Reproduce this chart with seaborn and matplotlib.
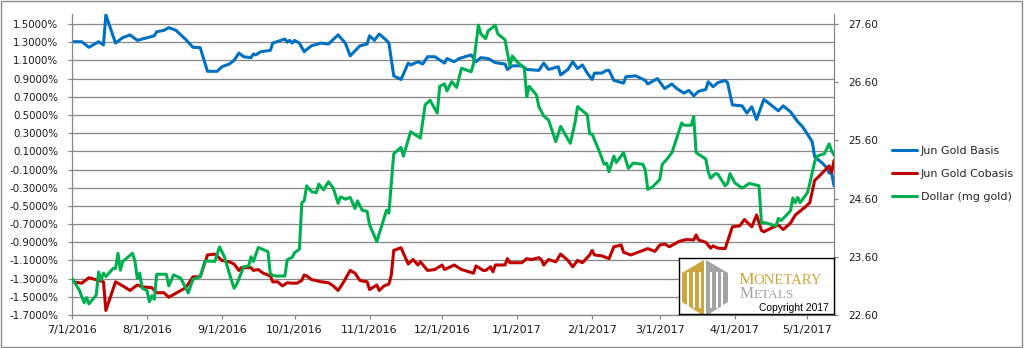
import matplotlib
matplotlib.use("Agg")
import matplotlib.pyplot as plt
import matplotlib.dates as mdates
from matplotlib.ticker import FuncFormatter, FixedLocator
from matplotlib.patches import Polygon, Rectangle
from matplotlib.lines import Line2D
import numpy as np
import pandas as pd
import seaborn as sns

# ---------------- data ----------------
basis_dates = [
    "2016-07-01", "2016-07-05", "2016-07-08", "2016-07-12", "2016-07-14", "2016-07-15", "2016-07-19",
    "2016-07-22", "2016-07-25", "2016-07-28", "2016-08-04", "2016-08-05", "2016-08-08", "2016-08-10",
    "2016-08-13", "2016-08-17", "2016-08-20", "2016-08-23", "2016-08-26", "2016-08-30", "2016-09-01",
    "2016-09-04", "2016-09-06", "2016-09-08", "2016-09-10", "2016-09-13", "2016-09-14", "2016-09-15",
    "2016-09-17", "2016-09-21", "2016-09-22", "2016-09-27", "2016-09-28", "2016-09-29", "2016-09-30",
    "2016-10-01", "2016-10-03", "2016-10-05", "2016-10-06", "2016-10-08", "2016-10-12", "2016-10-15",
    "2016-10-19", "2016-10-22", "2016-10-24", "2016-10-28", "2016-10-31", "2016-11-01", "2016-11-03",
    "2016-11-05", "2016-11-08", "2016-11-09", "2016-11-11", "2016-11-14", "2016-11-17", "2016-11-18",
    "2016-11-21", "2016-11-23", "2016-11-25", "2016-11-28", "2016-12-02", "2016-12-03", "2016-12-06",
    "2016-12-08", "2016-12-13", "2016-12-15", "2016-12-17", "2016-12-20", "2016-12-23", "2016-12-27",
    "2016-12-28", "2016-12-30", "2017-01-03", "2017-01-05", "2017-01-10", "2017-01-12", "2017-01-14",
    "2017-01-18", "2017-01-19", "2017-01-22", "2017-01-24", "2017-01-26", "2017-01-28", "2017-01-30",
    "2017-02-01", "2017-02-02", "2017-02-05", "2017-02-07", "2017-02-08", "2017-02-10", "2017-02-14",
    "2017-02-15", "2017-02-19", "2017-02-23", "2017-02-24", "2017-02-28", "2017-03-03", "2017-03-06",
    "2017-03-08", "2017-03-11", "2017-03-13", "2017-03-15", "2017-03-17", "2017-03-20", "2017-03-21",
    "2017-03-23", "2017-03-25", "2017-03-28", "2017-03-29", "2017-03-31", "2017-04-04", "2017-04-06",
    "2017-04-08", "2017-04-10", "2017-04-13", "2017-04-15", "2017-04-19", "2017-04-21", "2017-04-24",
    "2017-04-27", "2017-04-29", "2017-05-01", "2017-05-03", "2017-05-04", "2017-05-07", "2017-05-09",
    "2017-05-10", "2017-05-11", "2017-05-12",
]
basis_values = [
    1.305, 1.305, 1.244, 1.305, 1.27, 1.60, 1.29,
    1.35, 1.38, 1.32, 1.37, 1.415, 1.43, 1.46,
    1.43, 1.33, 1.244, 1.24, 0.98, 0.98, 1.03,
    1.06, 1.10, 1.18, 1.14, 1.13, 1.17, 1.16,
    1.195, 1.21, 1.29, 1.335, 1.30, 1.32, 1.29,
    1.32, 1.29, 1.195, 1.22, 1.26, 1.29, 1.28,
    1.38, 1.29, 1.15, 1.26, 1.28, 1.37, 1.32,
    1.39, 1.32, 1.29, 0.93, 0.89, 1.07, 1.05,
    1.085, 1.06, 1.14, 1.14, 1.07, 1.12, 1.085,
    1.12, 1.16, 1.085, 1.13, 1.12, 1.075, 1.06,
    1.00, 1.04, 1.04, 1.00, 0.99, 1.07, 1.00,
    1.03, 0.94, 1.00, 1.085, 1.01, 1.05, 0.96,
    0.89, 0.96, 0.96, 0.99, 0.99, 0.88, 0.85,
    0.92, 0.93, 0.88, 0.84, 0.90, 0.79, 0.84,
    0.79, 0.74, 0.77, 0.71, 0.76, 0.78, 0.865,
    0.81, 0.855, 0.88, 0.855, 0.61, 0.60, 0.52,
    0.59, 0.45, 0.67, 0.63, 0.545, 0.60, 0.535,
    0.425, 0.37, 0.29, 0.205, 0.04, -0.025, -0.08,
    -0.14, -0.135, -0.28,
]

cobasis_dates = [
    "2016-07-01", "2016-07-05", "2016-07-08", "2016-07-12", "2016-07-14", "2016-07-15", "2016-07-19",
    "2016-07-22", "2016-07-25", "2016-07-28", "2016-07-30", "2016-08-03", "2016-08-05", "2016-08-08",
    "2016-08-10", "2016-08-13", "2016-08-17", "2016-08-20", "2016-08-23", "2016-08-26", "2016-08-29",
    "2016-09-01", "2016-09-04", "2016-09-06", "2016-09-08", "2016-09-09", "2016-09-13", "2016-09-14",
    "2016-09-16", "2016-09-18", "2016-09-21", "2016-09-22", "2016-09-24", "2016-09-26", "2016-09-28",
    "2016-09-30", "2016-10-02", "2016-10-04", "2016-10-05", "2016-10-06", "2016-10-08", "2016-10-12",
    "2016-10-15", "2016-10-17", "2016-10-19", "2016-10-21", "2016-10-24", "2016-10-26", "2016-10-28",
    "2016-10-31", "2016-11-01", "2016-11-04", "2016-11-05", "2016-11-07", "2016-11-09", "2016-11-10",
    "2016-11-11", "2016-11-14", "2016-11-17", "2016-11-19", "2016-11-21", "2016-11-22", "2016-11-25",
    "2016-11-28", "2016-12-01", "2016-12-02", "2016-12-06", "2016-12-09", "2016-12-14", "2016-12-15",
    "2016-12-18", "2016-12-19", "2016-12-21", "2016-12-22", "2016-12-23", "2016-12-27", "2016-12-28",
    "2016-12-29", "2017-01-03", "2017-01-05", "2017-01-07", "2017-01-10", "2017-01-11", "2017-01-12",
    "2017-01-14", "2017-01-17", "2017-01-19", "2017-01-22", "2017-01-24", "2017-01-26", "2017-01-28",
    "2017-01-31", "2017-02-01", "2017-02-02", "2017-02-05", "2017-02-08", "2017-02-10", "2017-02-13",
    "2017-02-14", "2017-02-17", "2017-02-21", "2017-02-24", "2017-02-27", "2017-03-01", "2017-03-03",
    "2017-03-05", "2017-03-09", "2017-03-12", "2017-03-15", "2017-03-16", "2017-03-17", "2017-03-20",
    "2017-03-22", "2017-03-23", "2017-03-25", "2017-03-28", "2017-03-29", "2017-03-31", "2017-04-03",
    "2017-04-05", "2017-04-08", "2017-04-10", "2017-04-12", "2017-04-13", "2017-04-18", "2017-04-19",
    "2017-04-21", "2017-04-24", "2017-04-26", "2017-04-30", "2017-05-02", "2017-05-04", "2017-05-06",
    "2017-05-08", "2017-05-10", "2017-05-11", "2017-05-12",
]
cobasis_values = [
    -1.335, -1.35, -1.29, -1.32, -1.335, -1.65, -1.335,
    -1.38, -1.43, -1.37, -1.39, -1.40, -1.455, -1.455,
    -1.505, -1.46, -1.40, -1.28, -1.28, -1.04, -1.03,
    -1.10, -1.115, -1.14, -1.21, -1.18, -1.18, -1.21,
    -1.20, -1.24, -1.27, -1.335, -1.335, -1.38, -1.345,
    -1.35, -1.35, -1.32, -1.26, -1.27, -1.31, -1.335,
    -1.345, -1.38, -1.43, -1.35, -1.21, -1.24, -1.32,
    -1.335, -1.42, -1.37, -1.43, -1.38, -1.36, -1.26,
    -0.99, -0.96, -1.14, -1.09, -1.15, -1.115, -1.21,
    -1.20, -1.15, -1.20, -1.15, -1.20, -1.24, -1.16,
    -1.21, -1.21, -1.17, -1.225, -1.15, -1.15, -1.08,
    -1.125, -1.125, -1.08, -1.09, -1.07, -1.09, -1.15,
    -1.09, -1.115, -1.03, -1.10, -1.17, -1.10, -1.125,
    -1.04, -0.99, -1.04, -1.05, -1.08, -0.95, -0.93,
    -1.01, -1.04, -1.00, -0.97, -1.00, -0.93, -0.92,
    -0.95, -0.89, -0.87, -0.875, -0.82, -0.875, -0.90,
    -0.965, -0.94, -0.965, -0.97, -0.89, -0.73, -0.72,
    -0.65, -0.73, -0.60, -0.77, -0.785, -0.72, -0.71,
    -0.76, -0.69, -0.60, -0.515, -0.465, -0.22, -0.17,
    -0.115, -0.06, -0.135, 0.00,
]

dollar_dates = [
    "2016-07-01", "2016-07-04", "2016-07-06", "2016-07-07", "2016-07-08", "2016-07-11", "2016-07-12",
    "2016-07-13", "2016-07-14", "2016-07-15", "2016-07-18", "2016-07-19", "2016-07-20", "2016-07-21",
    "2016-07-22", "2016-07-26", "2016-07-27", "2016-07-28", "2016-07-29", "2016-07-30", "2016-08-01",
    "2016-08-02", "2016-08-03", "2016-08-04", "2016-08-05", "2016-08-09", "2016-08-10", "2016-08-12",
    "2016-08-15", "2016-08-18", "2016-08-20", "2016-08-23", "2016-08-25", "2016-08-29", "2016-08-31",
    "2016-09-02", "2016-09-04", "2016-09-06", "2016-09-07", "2016-09-10", "2016-09-12", "2016-09-13",
    "2016-09-14", "2016-09-16", "2016-09-20", "2016-09-21", "2016-09-23", "2016-09-27", "2016-09-28",
    "2016-09-30", "2016-10-01", "2016-10-03", "2016-10-04", "2016-10-05", "2016-10-06", "2016-10-08",
    "2016-10-10", "2016-10-11", "2016-10-13", "2016-10-15", "2016-10-17", "2016-10-19", "2016-10-20",
    "2016-10-22", "2016-10-24", "2016-10-26", "2016-10-27", "2016-10-29", "2016-10-31", "2016-11-01",
    "2016-11-04", "2016-11-08", "2016-11-09", "2016-11-11", "2016-11-14", "2016-11-15", "2016-11-18",
    "2016-11-22", "2016-11-24", "2016-11-26", "2016-11-29", "2016-11-30", "2016-12-02", "2016-12-03",
    "2016-12-05", "2016-12-07", "2016-12-09", "2016-12-13", "2016-12-14", "2016-12-16", "2016-12-17",
    "2016-12-19", "2016-12-20", "2016-12-23", "2016-12-24", "2016-12-27", "2016-12-29", "2016-12-30",
    "2017-01-01", "2017-01-04", "2017-01-05", "2017-01-06", "2017-01-09", "2017-01-10", "2017-01-12",
    "2017-01-14", "2017-01-17", "2017-01-19", "2017-01-23", "2017-01-25", "2017-01-26", "2017-01-30",
    "2017-01-31", "2017-02-01", "2017-02-04", "2017-02-06", "2017-02-07", "2017-02-08", "2017-02-10",
    "2017-02-11", "2017-02-14", "2017-02-16", "2017-02-18", "2017-02-22", "2017-02-23", "2017-02-24",
    "2017-02-26", "2017-03-01", "2017-03-02", "2017-03-04", "2017-03-06", "2017-03-08", "2017-03-10",
    "2017-03-11", "2017-03-14", "2017-03-15", "2017-03-16", "2017-03-20", "2017-03-21", "2017-03-22",
    "2017-03-24", "2017-03-25", "2017-03-28", "2017-03-29", "2017-03-30", "2017-04-01", "2017-04-04",
    "2017-04-07", "2017-04-11", "2017-04-12", "2017-04-14", "2017-04-18", "2017-04-19", "2017-04-20",
    "2017-04-22", "2017-04-24", "2017-04-25", "2017-04-26", "2017-04-27", "2017-04-28", "2017-05-01",
    "2017-05-02", "2017-05-04", "2017-05-05", "2017-05-08", "2017-05-10", "2017-05-11", "2017-05-12",
]
dollar_values = [
    23.23, 23.03, 22.81, 22.90, 22.79, 22.94, 23.34,
    23.20, 23.32, 23.26, 23.40, 23.40, 23.66, 23.37,
    23.52, 23.66, 23.53, 23.23, 23.32, 23.06, 23.02,
    22.83, 22.93, 22.87, 23.30, 23.30, 23.10, 23.29,
    23.23, 22.98, 23.21, 23.26, 23.53, 23.52, 23.77,
    23.60, 23.32, 23.06, 23.12, 23.43, 23.44, 23.60,
    23.52, 23.76, 23.69, 23.30, 23.27, 23.27, 23.55,
    23.59, 23.67, 23.73, 24.53, 24.56, 24.82, 24.72,
    24.70, 24.85, 24.75, 24.89, 24.78, 24.52, 24.63,
    24.59, 24.62, 24.43, 24.56, 24.40, 24.38, 24.15,
    23.86, 24.40, 24.35, 25.37, 25.48, 25.33, 25.75,
    25.64, 26.21, 26.29, 26.07, 26.53, 26.57, 26.45,
    26.61, 26.51, 26.84, 26.78, 26.92, 27.58, 27.43,
    27.35, 27.48, 27.58, 27.43, 27.33, 26.88, 27.05,
    26.95, 26.84, 26.35, 26.53, 26.38, 26.18, 26.02,
    25.95, 25.58, 25.84, 25.55, 25.92, 26.18, 26.04,
    25.71, 25.71, 25.41, 25.19, 25.21, 25.06, 25.33,
    25.22, 25.39, 25.12, 25.21, 25.19, 25.09, 24.76,
    24.80, 24.93, 25.19, 25.28, 25.39, 25.64, 25.90,
    25.86, 25.86, 26.01, 25.39, 25.28, 25.06, 24.95,
    25.03, 25.02, 24.82, 24.86, 25.03, 24.87, 24.78,
    24.86, 24.82, 24.19, 24.18, 24.13, 24.26, 24.22,
    24.30, 24.39, 24.61, 24.53, 24.62, 24.53, 24.70,
    24.86, 25.23, 25.33, 25.37, 25.54, 25.42, 25.35,
]

series_labels = ["Jun Gold Basis", "Jun Gold Cobasis", "Dollar (mg gold)"]
series_colors = ["#0070C0", "#C00000", "#00B050"]

left_ticks = [-1.7, -1.5, -1.3, -1.1, -0.9, -0.7, -0.5, -0.3, -0.1, 0.1, 0.3, 0.5, 0.7, 0.9, 1.1, 1.3, 1.5]
right_ticks = [22.6, 23.6, 24.6, 25.6, 26.6, 27.6]
x_start, x_end = "2016-07-01", "2017-05-12"

basis_df = pd.DataFrame({"date": pd.to_datetime(basis_dates), "value": basis_values})
cobasis_df = pd.DataFrame({"date": pd.to_datetime(cobasis_dates), "value": cobasis_values})
dollar_df = pd.DataFrame({"date": pd.to_datetime(dollar_dates), "value": dollar_values})

# ---------------- style ----------------
sns.set_style("white")
plt.rcParams["font.family"] = ["DejaVu Sans"]
plt.rcParams["axes.unicode_minus"] = False

W, H = 1025, 348
fig = plt.figure(figsize=(W / 100, H / 100), dpi=100)
fig.patch.set_facecolor("white")

# plot area in pixels: left 72, right 834, top 14, bottom 315
ax = fig.add_axes([72 / W, (H - 315) / H, (834 - 72) / W, (315 - 14) / H])
ax2 = ax.twinx()

lw = 2.2
sns.lineplot(data=basis_df, x="date", y="value", ax=ax, color=series_colors[0], lw=lw, legend=False)
sns.lineplot(data=cobasis_df, x="date", y="value", ax=ax, color=series_colors[1], lw=lw, legend=False)
sns.lineplot(data=dollar_df, x="date", y="value", ax=ax2, color=series_colors[2], lw=lw, legend=False)

grid_c = "#878787"
ax.set_xlim(pd.Timestamp(x_start), pd.Timestamp(x_end))
left_span = (left_ticks[-1] - left_ticks[0]) / 291 * 301
ax.set_ylim(left_ticks[0], left_ticks[0] + left_span)
right_span = (right_ticks[-1] - right_ticks[0]) / 291 * 301
ax2.set_ylim(right_ticks[0], right_ticks[0] + right_span)

ax.yaxis.set_major_locator(FixedLocator(left_ticks))
ax.yaxis.set_major_formatter(FuncFormatter(lambda v, p: f"{v:.4f}%"))
ax2.yaxis.set_major_locator(FixedLocator(right_ticks))
ax2.yaxis.set_major_formatter(FuncFormatter(lambda v, p: f"{v:.2f}"))

ax.xaxis.set_major_locator(mdates.MonthLocator())
ax.xaxis.set_major_formatter(FuncFormatter(
    lambda v, p: (lambda d: f"{d.month}/{d.day}/{d.year}")(mdates.num2date(v))))

ax.set_xlabel("")
ax.set_ylabel("")
ax2.set_ylabel("")

ax.grid(True, axis="y", color=grid_c, lw=0.9)
ax.grid(False, axis="x")
ax2.grid(False)
ax.set_axisbelow(True)

for s in ["top", "right"]:
    ax.spines[s].set_visible(False)
for s in ["left", "bottom"]:
    ax.spines[s].set_color(grid_c)
    ax.spines[s].set_linewidth(0.9)
for s in ["top", "left", "bottom"]:
    ax2.spines[s].set_visible(False)
ax2.spines["right"].set_color(grid_c)
ax2.spines["right"].set_linewidth(0.9)

ax.tick_params(axis="y", which="major", direction="out", length=3, width=0.9, color=grid_c,
               pad=7, labelsize=7.4, labelcolor="#1a1a1a", left=True)
ax.tick_params(axis="x", which="major", direction="out", length=3, width=0.9, color=grid_c,
               pad=4.5, labelsize=8, labelcolor="#1a1a1a", bottom=True)
ax2.tick_params(axis="y", which="major", direction="out", length=3, width=0.9, color=grid_c,
                pad=7, labelsize=7.6, labelcolor="#1a1a1a", right=True)

# legend
handles = [Line2D([], [], color=c, lw=lw) for c in series_colors]
fig.legend(handles, series_labels, loc="center left", bbox_to_anchor=(891.5 / W, 1 - 174 / H),
           frameon=False, fontsize=8, handlelength=2.3, handletextpad=0.35,
           labelspacing=1.15, borderpad=0, borderaxespad=0)

# logo box
lx0, ly0, lx1, ly1 = 679, 258, 834, 314
lax = fig.add_axes([lx0 / W, (H - ly1) / H, (lx1 - lx0) / W, (ly1 - ly0) / H])
lax.set_xlim(0, lx1 - lx0)
lax.set_ylim(ly1 - ly0, 0)
lax.set_xticks([])
lax.set_yticks([])
lax.set_facecolor("white")
for s in lax.spines.values():
    s.set_color("black")
    s.set_linewidth(1.0)

gold = "#CDA53E"
grey = "#A3A3A3"
lax.add_patch(Polygon([(25, 2), (3, 15), (3, 44), (25, 58)], closed=True, fc=gold, ec="none"))
lax.add_patch(Polygon([(27, 2), (49, 15), (49, 44), (27, 58)], closed=True, fc=grey, ec="none"))
for x0 in (8, 13.5, 19.5):
    lax.add_patch(Rectangle((x0, 14), 2.3, 36, fc="white", ec="none"))
for x0 in (30.5, 36.5, 42):
    lax.add_patch(Rectangle((x0, 14), 2.3, 36, fc="white", ec="none"))

serif = ["Liberation Serif", "DejaVu Serif"]
t1 = lax.text(59, 26, "M", family=serif, fontsize=12.6, color=gold, va="baseline", ha="left")
t3 = lax.text(61, 40.5, "M", family=serif, fontsize=11.4, color=grey, va="baseline", ha="left")
fig.canvas.draw()
r = fig.canvas.get_renderer()
inv = lax.transData.inverted()
bx = inv.transform((t1.get_window_extent(r).x1, 0))[0]
lax.text(bx, 26, "ONETARY", family=serif, fontsize=10.6, color=gold, va="baseline", ha="left")
bx3 = inv.transform((t3.get_window_extent(r).x1, 0))[0]
lax.text(bx3, 40.5, "ETALS", family=serif, fontsize=9.6, color=grey, va="baseline", ha="left")
lax.text(150, 53, "Copyright 2017", family=["Liberation Sans", "DejaVu Sans"], fontsize=7.4,
         color="black", va="baseline", ha="right")

# outer chart border
fig.add_artist(Rectangle((0.5 / W, 1.5 / H), 1021.5 / W, 346 / H, transform=fig.transFigure,
                         fill=False, ec="#8c8c8c", lw=1.0))

fig.savefig("out.png", dpi=100, facecolor="white")
